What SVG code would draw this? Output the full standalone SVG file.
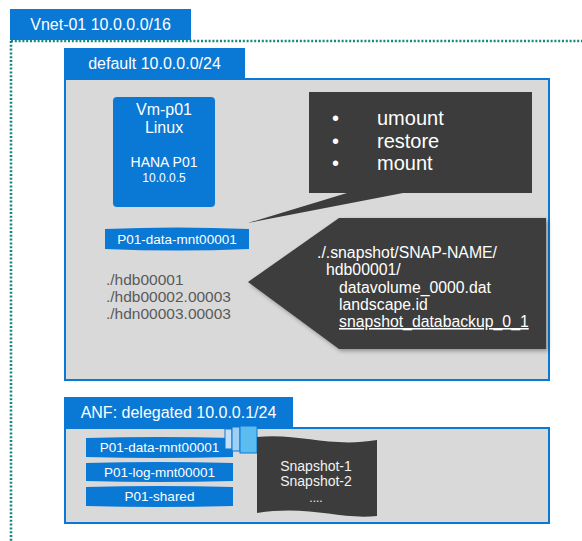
<svg xmlns="http://www.w3.org/2000/svg" width="582" height="541" viewBox="0 0 582 541">
  <defs>
    <style>
      .t { font-family: "Liberation Sans", Arial, sans-serif; }
      .w { fill: #ffffff; }
      .blue { fill: #0a78d5; }
      .panel { fill: #d9d9d9; stroke: #0a78d5; stroke-width: 2; }
      .dark { fill: #3c3c3c; }
      .gtxt { fill: #595959; }
      .ltxt { fill: #f2f2f2; }
      .dots { fill: none; stroke: #138a7c; stroke-width: 2.6; stroke-dasharray: 2 1.8; }
    </style>
    <filter id="sh" x="-10%" y="-10%" width="125%" height="125%">
      <feDropShadow dx="2" dy="2" stdDeviation="2" flood-color="#000" flood-opacity="0.35"/>
    </filter>
  </defs>
  <rect width="582" height="541" fill="#ffffff"/>

  <g id="vnet">
    <path class="dots" d="M11,41 H582 M11,41 V541"/>
    <rect class="blue" x="10" y="9" width="181" height="31"/>
    <text class="t w" x="100.5" y="30" font-size="16" text-anchor="middle">Vnet-01 10.0.0.0/16</text>
  </g>

  <g id="default-subnet">
    <rect class="blue" x="64" y="48" width="181" height="31"/>
    <text class="t w" x="154.5" y="69" font-size="16" text-anchor="middle">default 10.0.0.0/24</text>
    <rect class="panel" x="65" y="79" width="484" height="301"/>
  </g>

  <g id="vm">
    <rect class="blue" x="113" y="97" width="102" height="110" rx="4"/>
    <text class="t w" x="164" y="115" font-size="16" text-anchor="middle">Vm-p01</text>
    <text class="t w" x="164" y="133" font-size="16" text-anchor="middle">Linux</text>
    <text class="t w" x="164" y="167" font-size="14" text-anchor="middle">HANA P01</text>
    <text class="t w" x="164" y="182" font-size="12" text-anchor="middle">10.0.0.5</text>
  </g>

  <g id="mount">
    <path class="blue" d="M105,229 Q177,226 249,229 V249 Q177,252 105,249 Z"/>
    <text class="t w" x="177" y="244" font-size="13.5" text-anchor="middle">P01-data-mnt00001</text>
  </g>

  <g id="files">
    <text class="t gtxt" x="106" y="285" font-size="15.5">./hdb00001</text>
    <text class="t gtxt" x="106" y="302" font-size="15.5">./hdb00002.00003</text>
    <text class="t gtxt" x="106" y="319" font-size="15.5">./hdn00003.00003</text>
  </g>

  <g id="callout-steps">
    <path class="dark" d="M309,92 H532 V193 H403 L248,223 L347,193 H309 Z"/>
    <text class="t w" x="332" y="125" font-size="20">•</text>
    <text class="t w" x="332" y="148" font-size="20">•</text>
    <text class="t w" x="332" y="170" font-size="20">•</text>
    <text class="t w" x="377" y="125" font-size="20">umount</text>
    <text class="t w" x="377" y="148" font-size="20">restore</text>
    <text class="t w" x="377" y="170" font-size="20">mount</text>
  </g>

  <g id="callout-snapshot">
    <path class="dark" filter="url(#sh)" d="M339,218 H546 V349 H339 L248,282 Z"/>
    <text class="t w" x="317" y="258" font-size="15.8">./.snapshot/SNAP-NAME/</text>
    <text class="t w" x="326" y="275" font-size="15.8">hdb00001/</text>
    <text class="t w" x="339" y="293" font-size="15.8">datavolume_0000.dat</text>
    <text class="t w" x="339" y="310" font-size="15.8">landscape.id</text>
    <text class="t w" x="339" y="327" font-size="15.8" text-decoration="underline">snapshot_databackup_0_1</text>
  </g>

  <g id="anf">
    <rect class="blue" x="64" y="397" width="229" height="31"/>
    <text class="t w" x="178.5" y="418" font-size="16" text-anchor="middle">ANF: delegated 10.0.0.1/24</text>
    <rect class="panel" x="65" y="428" width="484" height="95"/>
  </g>

  <g id="volumes">
    <path class="blue" d="M86,438 Q159,436 233,438 V457 Q159,459 86,457 Z"/>
    <text class="t w" x="159.5" y="452" font-size="13.5" text-anchor="middle">P01-data-mnt00001</text>
    <path class="blue" d="M86,463 Q159,461 233,463 V481 Q159,483 86,481 Z"/>
    <text class="t w" x="159.5" y="477" font-size="13.5" text-anchor="middle">P01-log-mnt00001</text>
    <path class="blue" d="M86,487 Q159,485 233,487 V506 Q159,508 86,506 Z"/>
    <text class="t w" x="159.5" y="501" font-size="13.5" text-anchor="middle">P01-shared</text>
  </g>

  <g id="connector-icon">
    <rect x="225" y="429" width="7" height="20" fill="#c5e0f5" stroke="#0a78d5" stroke-width="1"/>
    <rect x="232" y="427" width="8" height="24" fill="#9dd0f2" stroke="#0a78d5" stroke-width="1"/>
    <rect x="240" y="426" width="17" height="27" fill="#5bbcef" stroke="#0a78d5" stroke-width="1"/>
  </g>

  <g id="snapshots">
    <path class="dark" d="M257,437 C300,433 330,448 377,440 V516 C340,520 310,505 257,513 Z"/>
    <text class="t ltxt" x="316" y="471" font-size="14" text-anchor="middle">Snapshot-1</text>
    <text class="t ltxt" x="316" y="486" font-size="14" text-anchor="middle">Snapshot-2</text>
    <text class="t ltxt" x="316" y="502" font-size="12" text-anchor="middle">....</text>
  </g>
</svg>
